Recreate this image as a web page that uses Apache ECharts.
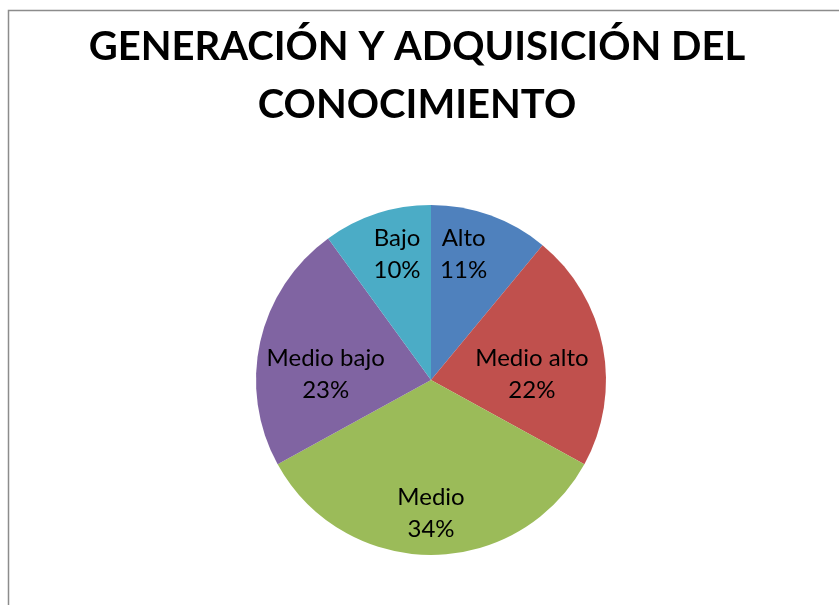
<!DOCTYPE html>
<html>
<head>
<meta charset="utf-8">
<script src="https://cdn.jsdelivr.net/npm/echarts@6/dist/echarts.min.js"></script>
<style>
    html, body { margin: 0; padding: 0; background: #fff; }
    #main { width: 839px; height: 605px; }
</style>
</head>
<body>
<div id="main"></div>
<script>
// categorias y porcentajes (sentido horario desde arriba)
const categories = ['Alto', 'Medio alto', 'Medio', 'Medio bajo', 'Bajo'];
const values = [11, 22, 34, 23, 10];
const colors = ['#4F81BD', '#C0504D', '#9BBB59', '#8064A2', '#4BACC6'];

// ajuste de etiquetas para parecerse a Excel
const labelOffsets = [[2, -41], [12, 11], [0, 43], [-17, 14], [-6, -40]];

const myChart = echarts.init(document.getElementById('main'));

const option = {
    backgroundColor: '#fff',
    animation: false,
    title: {
        text: 'GENERACIÓN Y ADQUISICIÓN DEL\nCONOCIMIENTO',
        left: 412,
        top: 13,
        textAlign: 'center',
        textStyle: {
            fontFamily: 'Lato, sans-serif',
            fontWeight: 'bold',
            fontSize: 40,
            lineHeight: 58,
            color: '#000'
        }
    },
    graphic: [{
        type: 'rect',
        shape: { x: 8.5, y: 10.5, width: 900, height: 700 },
        style: { fill: 'none', stroke: '#8c8c8c', lineWidth: 1.5 },
        silent: true
    }],
    series: [{
        type: 'pie',
        center: [431, 380],
        radius: 175,
        startAngle: 90,
        clockwise: true,
        label: {
            show: true,
            position: 'inside',
            formatter: '{b}\n{c}%',
            fontFamily: 'Lato, sans-serif',
            fontSize: 24,
            lineHeight: 32,
            color: '#000',
            align: 'center'
        },
        labelLine: { show: false },
        itemStyle: { borderWidth: 0 },
        emphasis: { disabled: true },
        data: categories.map((name, i) => ({
            name: name,
            value: values[i],
            itemStyle: { color: colors[i] },
            label: { offset: labelOffsets[i] }
        }))
    }]
};

myChart.setOption(option);
window.addEventListener('resize', () => { myChart.resize(); });
</script>
</body>
</html>
